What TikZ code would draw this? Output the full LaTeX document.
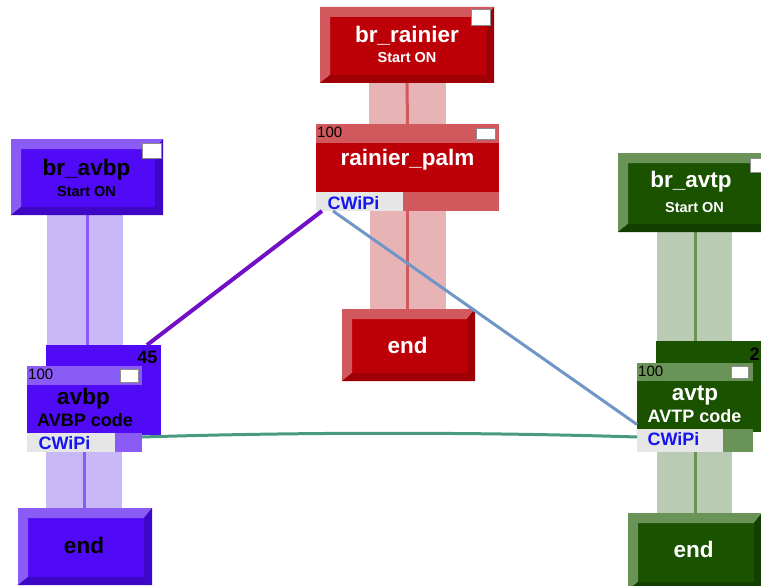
\documentclass[tikz,border=0pt]{standalone}
\usepackage{fontspec}
\setmainfont{Liberation Sans}
\usetikzlibrary{calc}
\definecolor{rface}{HTML}{BD0008}
\definecolor{rlight}{HTML}{D1585C}
\definecolor{rdark}{HTML}{9E0006}
\definecolor{rpill}{HTML}{E8B3B5}
\definecolor{pface}{HTML}{500AF5}
\definecolor{plight}{HTML}{8A5CF5}
\definecolor{pdark}{HTML}{3E07C6}
\definecolor{ppill}{HTML}{C8B8F8}
\definecolor{gface}{HTML}{1A5200}
\definecolor{glight}{HTML}{6A9358}
\definecolor{gdark}{HTML}{134000}
\definecolor{gpill}{HTML}{BACBB4}
\definecolor{strip}{HTML}{E6E6E6}
\definecolor{cwblue}{HTML}{1515F0}
\definecolor{lnpurple}{HTML}{700FC6}
\definecolor{lnblue}{HTML}{6F96C7}
\definecolor{lnteal}{HTML}{4A9A82}
\newcommand{\boxnode}[6][]{\node[#1, rectangle, inner sep=0pt, outer sep=0pt, minimum width={(#5-#3)*1pt}, minimum height={(#6-#4)*1pt}] (#2) at ({(#3+#5)/2},{(#4+#6)/2}) {};}
\newcommand{\bev}[3]{%
 \fill[#2] (#1.north west) -- (#1.north east) -- ($(#1.north east)+(-8,10)$) -- ($(#1.north west)+(10,10)$) -- ($(#1.south west)+(10,-8)$) -- (#1.south west) -- cycle;
 \fill[#3] (#1.north east) -- (#1.south east) -- (#1.south west) -- ($(#1.south west)+(10,-8)$) -- ($(#1.south east)+(-8,-8)$) -- ($(#1.north east)+(-8,10)$) -- cycle;}
\begin{document}
\begin{tikzpicture}[x=1pt,y=-1pt,
  ttl/.style={font=\bfseries\fontsize{22.5}{22.5}\selectfont, inner sep=0pt, anchor=base},
  sub/.style={font=\bfseries\fontsize{14.5}{14.5}\selectfont, inner sep=0pt, anchor=base},
  code/.style={font=\bfseries\fontsize{18}{18}\selectfont, inner sep=0pt, anchor=base},
  num/.style={font=\fontsize{15}{15}\selectfont, inner sep=0pt, anchor=base west, text=black},
  cw/.style={font=\bfseries\fontsize{18}{18}\selectfont, inner sep=0pt, anchor=base, text=cwblue},
  wbox/.style={fill=white, draw=black!45, line width=0.8pt},
  cline/.style={line width=3pt}]
\useasboundingbox (0,0) rectangle (761,586);
\clip (0,0) rectangle (761,586);

% ---------- boxes (geometry) ----------
\boxnode[fill=rface]{brr}{320}{7}{494}{83}
\boxnode[fill=rface]{rp}{316}{124}{499}{211}
\boxnode[fill=rface]{endr}{342}{309}{475}{381}
\boxnode[fill=pface]{brav}{11}{139}{163}{215}
\boxnode[fill=pface]{avbpback}{46}{345}{161}{435}
\boxnode[fill=pface]{avbp}{27}{366}{142}{452}
\boxnode[fill=pface]{endp}{18}{508}{152}{585}
\boxnode[fill=gface]{brat}{618}{153}{772}{232}
\boxnode[fill=gface]{avtpback}{656}{341}{771}{432}
\boxnode[fill=gface]{avtp}{637}{363}{753}{452}
\boxnode[fill=gface]{endg}{628}{513}{762}{590}

% ---------- pillars ----------
\fill[rpill] ($(brr.south)+(-38,0)$) rectangle ($(rp.north)+(38,0)$);
\draw[rlight, cline] (brr.south) -- (rp.north);
\fill[rpill] ($(rp.south)+(-38,0)$) rectangle ($(endr.north)+(37,0)$);
\draw[rlight, cline] (rp.south) -- (rp.south |- endr.north);
\fill[ppill] ($(brav.south)+(-40,0)$) rectangle ($(brav.south |- avbpback.north)+(36,0)$);
\draw[plight, cline] (brav.south) -- (brav.south |- avbpback.north);
\fill[ppill] ($(avbp.south)+(-38.5,0)$) rectangle ($(endp.north)+(37,0)$);
\draw[plight, cline] (avbp.south) -- (avbp.south |- endp.north);
\fill[gpill] ($(brat.south)+(-38,0)$) rectangle ($(brat.south |- avtpback.north)+(37,0)$);
\draw[glight, cline] (brat.south) -- (brat.south |- avtpback.north);
\fill[gpill] ($(avtp.south)+(-38,0)$) rectangle ($(endg.north)+(37,0)$);
\draw[glight, cline] (avtp.south) -- (avtp.south |- endg.north);

% redraw boxes on top of pillars
\boxnode[fill=rface]{brr}{320}{7}{494}{83}
\bev{brr}{rlight}{rdark}
\boxnode[fill=rface]{rp}{316}{124}{499}{211}
\boxnode[fill=rface]{endr}{342}{309}{475}{381}
\bev{endr}{rlight}{rdark}
\boxnode[fill=pface]{brav}{11}{139}{163}{215}
\bev{brav}{plight}{pdark}
\boxnode[fill=pface]{avbpback}{46}{345}{161}{435}
\boxnode[fill=pface]{avbp}{27}{366}{142}{452}
\boxnode[fill=pface]{endp}{18}{508}{152}{585}
\bev{endp}{plight}{pdark}
\boxnode[fill=gface]{brat}{618}{153}{772}{232}
\bev{brat}{glight}{gdark}
\boxnode[fill=gface]{avtpback}{656}{341}{771}{432}
\boxnode[fill=gface]{avtp}{637}{363}{753}{452}
\boxnode[fill=gface]{endg}{628}{513}{762}{590}
\bev{endg}{glight}{gdark}

% ---------- headers and strips ----------
\boxnode[fill=rlight]{rphead}{316}{124}{499}{143}
\boxnode[fill=strip]{rpcw}{316}{192}{403}{211}
\boxnode[fill=rlight]{rpcwr}{403}{192}{499}{211}
\boxnode[fill=plight]{avbphead}{27}{366}{142}{385}
\boxnode[fill=strip]{avbpcw}{27}{433}{115}{452}
\boxnode[fill=plight]{avbpcwr}{115}{433}{142}{452}
\boxnode[fill=glight]{avtphead}{637}{363}{753}{381}
\boxnode[fill=strip]{avtpcw}{637}{429}{723}{452}
\boxnode[fill=glight]{avtpcwr}{723}{429}{753}{452}

% white toggle boxes
\boxnode[wbox]{wb1}{471}{9}{490}{25}
\boxnode[wbox]{wb2}{476}{128}{495}{139}
\boxnode[wbox]{wb3}{142}{143}{161}{158}
\boxnode[wbox]{wb4}{120}{369}{138}{382}
\boxnode[wbox]{wb5}{750}{158}{770}{172}
\boxnode[wbox]{wb6}{731}{366}{748}{378}

% ---------- texts ----------
\node[ttl, text=white] (t1) at (407,43) {br\_rainier};
\node[sub, text=white] (t2) at (407,63) {Start ON};
\node[num] (t3) at (317,137) {100};
\node[ttl, text=white] (t4) at (407.5,165) {rainier\_palm};
\node[cw] (t5) at (353.5,209) {CWiPi};
\node[ttl, text=white] (t6) at (407.5,353) {end};

\node[ttl, text=black] (t7) at (86.5,175) {br\_avbp};
\node[sub, text=black] (t8) at (86.5,196) {Start ON};
\node[code, text=black, anchor=base east] (t9) at (157.5,363) {45};
\node[num] (t10) at (28,379) {100};
\node[ttl, text=black] (t11) at (83.5,404) {avbp};
\node[code, text=black] (t12) at (85,426) {AVBP code};
\node[cw] (t13) at (64.5,449) {CWiPi};
\node[ttl, text=black] (t14) at (84,553) {end};

\node[ttl, text=white] (t15) at (691,187) {br\_avtp};
\node[sub, text=white] (t16) at (694.5,212) {Start ON};
\node[code, text=black, anchor=base west] (t17) at (749.5,360) {2};
\node[num] (t18) at (638,376) {100};
\node[ttl, text=white] (t19) at (695,400) {avtp};
\node[code, text=white] (t20) at (694.5,422) {AVTP code};
\node[cw] (t21) at (673.5,445) {CWiPi};
\node[ttl, text=white] (t22) at (693.5,557) {end};

% ---------- couplings ----------
\draw[lnpurple, line width=4pt] ($(rpcw.south west)+(6,0)$) -- ($(avbpback.north west)+(101,0)$);
\draw[lnblue, line width=3pt] ($(rpcw.south west)+(17,0)$) -- ($(avtp.west)+(0,17)$);
\draw[lnteal, line width=3pt] ($(avbpcwr.north east)+(0,4)$) .. controls +(160,-5) and +(-160,-5) .. ($(avtpcw.north west)+(0,8)$);
\end{tikzpicture}
\end{document}
